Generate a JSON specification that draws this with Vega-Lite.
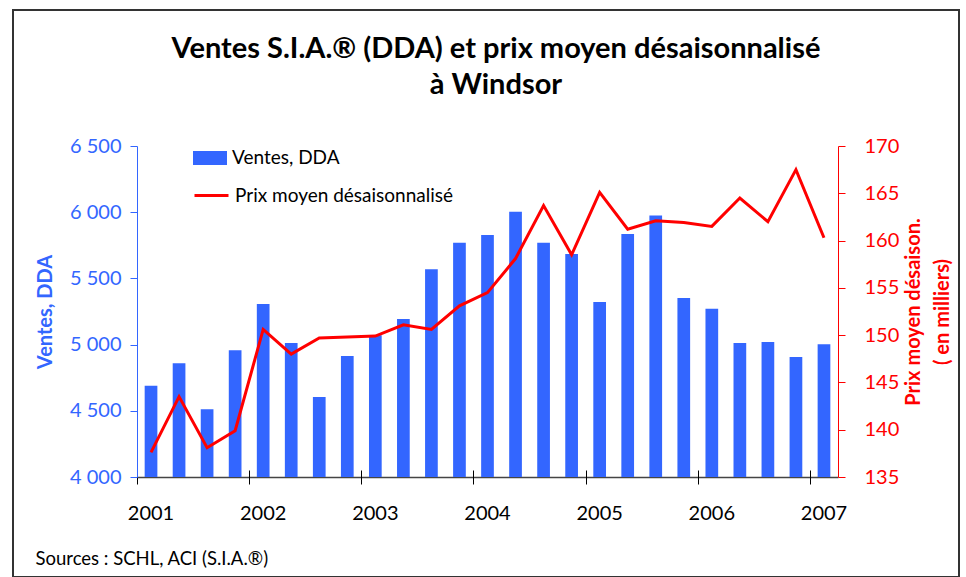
{
  "$schema": "https://vega.github.io/schema/vega-lite/v6.json",
  "autosize": {"type": "none"},
  "padding": {"left": 13, "top": 10, "right": 7, "bottom": 0},
  "width": 946,
  "height": 567,
  "background": "white",
  "title": {
    "text": ["Ventes S.I.A.® (DDA) et prix moyen désaisonnalisé", "à Windsor"],
    "orient": "top",
    "anchor": "middle",
    "frame": "group",
    "offset": -90,
    "dx": 10,
    "font": "Lato",
    "fontSize": 29,
    "fontWeight": "bold",
    "color": "black",
    "lineHeight": 36
  },
  "data": {
    "values": [
      {"q": "2001 T1", "ventes": 4690, "prix": 137.6},
      {"q": "2001 T2", "ventes": 4859, "prix": 143.5},
      {"q": "2001 T3", "ventes": 4511, "prix": 138.1},
      {"q": "2001 T4", "ventes": 4957, "prix": 139.9},
      {"q": "2002 T1", "ventes": 5307, "prix": 150.6},
      {"q": "2002 T2", "ventes": 5012, "prix": 148.0},
      {"q": "2002 T3", "ventes": 4604, "prix": 149.7},
      {"q": "2002 T4", "ventes": 4914, "prix": 149.8},
      {"q": "2003 T1", "ventes": 5070, "prix": 149.9},
      {"q": "2003 T2", "ventes": 5193, "prix": 151.1},
      {"q": "2003 T3", "ventes": 5569, "prix": 150.6},
      {"q": "2003 T4", "ventes": 5770, "prix": 153.1},
      {"q": "2004 T1", "ventes": 5828, "prix": 154.5},
      {"q": "2004 T2", "ventes": 6004, "prix": 158.1},
      {"q": "2004 T3", "ventes": 5770, "prix": 163.7},
      {"q": "2004 T4", "ventes": 5684, "prix": 158.5},
      {"q": "2005 T1", "ventes": 5322, "prix": 165.1},
      {"q": "2005 T2", "ventes": 5835, "prix": 161.2},
      {"q": "2005 T3", "ventes": 5976, "prix": 162.1},
      {"q": "2005 T4", "ventes": 5352, "prix": 161.9},
      {"q": "2006 T1", "ventes": 5271, "prix": 161.5},
      {"q": "2006 T2", "ventes": 5012, "prix": 164.5},
      {"q": "2006 T3", "ventes": 5020, "prix": 162.0},
      {"q": "2006 T4", "ventes": 4906, "prix": 167.5},
      {"q": "2007 T1", "ventes": 5002, "prix": 160.3}
    ]
  },
  "layer": [
    {
      "mark": {"type": "bar"},
      "encoding": {
        "x": {
          "field": "q", "type": "nominal", "sort": null,
          "scale": {"type": "band", "range": [124, 825], "paddingInner": 0.547, "paddingOuter": 0.2735},
          "axis": {
            "orient": "bottom",
            "offset": -100,
            "title": null,
            "values": ["2001 T1", "2002 T1", "2003 T1", "2004 T1", "2005 T1", "2006 T1", "2007 T1"],
            "labelExpr": "substring(datum.value, 0, 4)",
            "labelAngle": 0,
            "ticks": false,
            "tickSize": 0,
            "labelPadding": 26,
            "labelFont": "Lato",
            "labelFontSize": 20,
            "labelColor": "black",
            "domainColor": "#444444",
            "domainWidth": 1.5,
            "grid": false
          }
        },
        "y": {
          "field": "ventes", "type": "quantitative",
          "scale": {"domain": [4000, 6500], "range": [467, 136], "zero": false, "nice": false},
          "axis": {
            "orient": "left",
            "offset": -124,
            "values": [4000, 4500, 5000, 5500, 6000, 6500],
            "labelExpr": "replace(format(datum.value, ','), ',', ' ')",
            "title": "Ventes, DDA",
            "titleFont": "Lato",
            "titleFontSize": 20,
            "titleFontWeight": "bold",
            "titleColor": "#3366FF",
            "titlePadding": 14,
            "labelFont": "Lato",
            "labelFontSize": 20,
            "labelColor": "#3366FF",
            "labelPadding": 9,
            "domainColor": "#3366FF",
            "tickColor": "#3366FF",
            "tickSize": 7,
            "grid": false
          }
        },
        "y2": {"datum": 4000},
        "fill": {
          "datum": "Ventes, DDA",
          "scale": {"domain": ["Ventes, DDA"], "range": ["#3366FF"]},
          "legend": {
            "orient": "none",
            "legendX": 180,
            "legendY": 131,
            "title": null,
            "padding": 0,
            "symbolType": "M-1,-0.41H1V0.41H-1Z",
            "symbolSize": 1156,
            "symbolStrokeWidth": 0,
            "labelFont": "Lato",
            "labelFontSize": 19,
            "labelColor": "black",
            "labelOffset": 5,
            "labelLimit": 0
          }
        }
      }
    },
    {
      "mark": {"type": "line", "strokeWidth": 3},
      "encoding": {
        "x": {
          "field": "q", "type": "nominal", "sort": null,
          "axis": {
            "orient": "bottom",
            "offset": -107,
            "values": ["2001 T1", "2002 T1", "2003 T1", "2004 T1", "2005 T1", "2006 T1", "2007 T1"],
            "domain": false,
            "labels": false,
            "ticks": true,
            "tickSize": 14,
            "tickColor": "black",
            "tickWidth": 1,
            "tickOffset": -14.02,
            "grid": false,
            "title": "Sources : SCHL, ACI (S.I.A.®)",
            "titleX": 22,
            "titleY": 94,
            "titleAlign": "left",
            "titleAnchor": "start",
            "titleBaseline": "alphabetic",
            "titleAngle": 0,
            "titleFont": "Lato",
            "titleFontSize": 18.5,
            "titleFontWeight": "normal",
            "titleColor": "black"
          }
        },
        "y": {
          "field": "prix", "type": "quantitative",
          "scale": {"domain": [135, 170], "range": [467, 136], "zero": false, "nice": false},
          "axis": {
            "orient": "right",
            "offset": -121,
            "values": [135, 140, 145, 150, 155, 160, 165, 170],
            "title": ["Prix moyen désaison.", "( en milliers)"],
            "titleAngle": 270,
            "titleFont": "Lato",
            "titleFontSize": 20,
            "titleFontWeight": "bold",
            "titleColor": "#FF0000",
            "titleLineHeight": 29,
            "titlePadding": -4,
            "labelFont": "Lato",
            "labelFontSize": 20,
            "labelColor": "#FF0000",
            "labelPadding": 19,
            "domainColor": "#FF0000",
            "tickColor": "#FF0000",
            "tickSize": 7,
            "grid": false
          }
        },
        "stroke": {
          "datum": "Prix moyen désaisonnalisé",
          "scale": {"domain": ["Prix moyen désaisonnalisé"], "range": ["#FF0000"]},
          "legend": {
            "orient": "none",
            "legendX": 180,
            "legendY": 167,
            "title": null,
            "padding": 0,
            "symbolType": "stroke",
            "symbolSize": 1156,
            "symbolStrokeWidth": 3,
            "labelFont": "Lato",
            "labelFontSize": 19,
            "labelColor": "black",
            "labelOffset": 5,
            "labelLimit": 0
          }
        }
      }
    }
  ],
  "resolve": {
    "scale": {"y": "independent", "x": "shared"},
    "axis": {"y": "independent", "x": "independent"}
  },
  "config": {
    "font": "Lato",
    "view": {"stroke": "#333333", "strokeWidth": 2, "fill": "white"}
  }
}
